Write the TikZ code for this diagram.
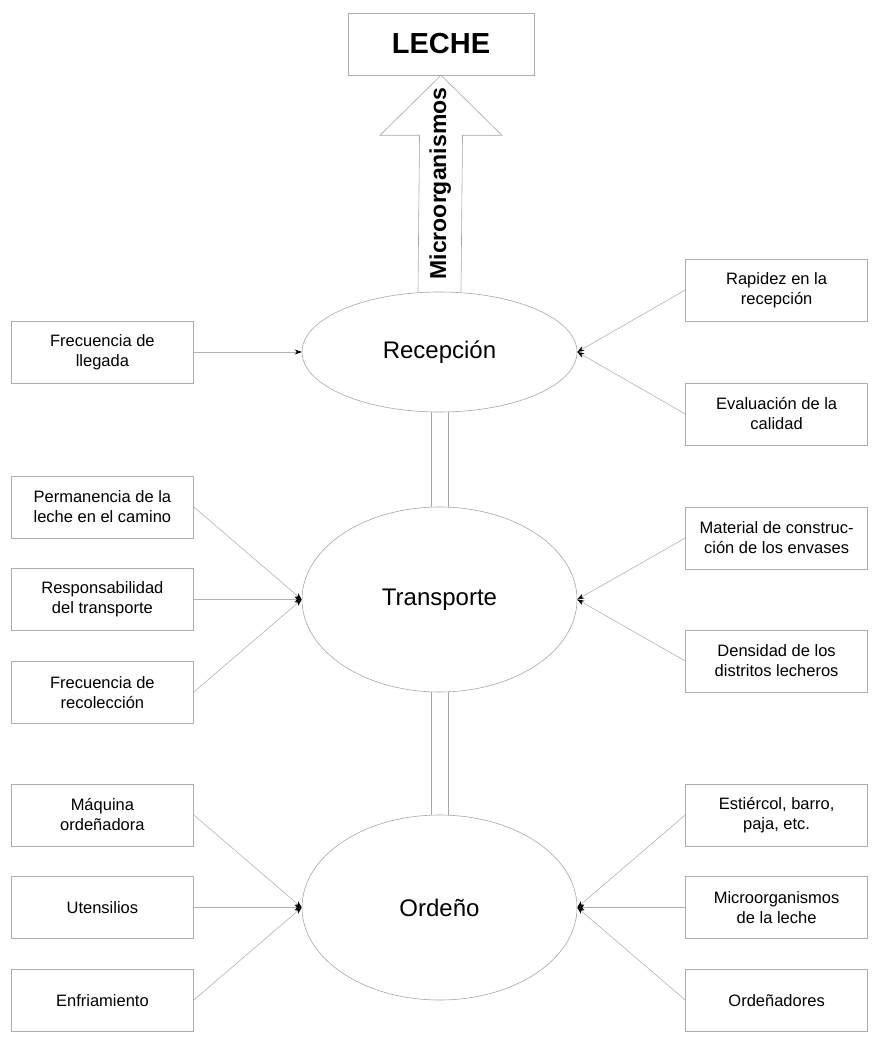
\documentclass[tikz,border=0pt]{standalone}
\usepackage{fontspec}
\setmainfont{Liberation Sans}
\usetikzlibrary{arrows.meta, calc, positioning, shapes.geometric}

\begin{document}
\begin{tikzpicture}[
    x=1pt, y=-1pt,
    node distance=30pt,
    box/.style={rectangle, draw=gray!65, line width=0.6pt, minimum width=182pt, minimum height=62pt, align=center, font=\fontsize{16.5}{20}\selectfont},
    stage/.style={ellipse, draw=gray!70, line width=0.6pt, minimum width=275pt, font=\fontsize{24}{28}\selectfont},
    link/.style={-{Stealth[length=7pt, width=5pt, color=black]}, draw=gray!60, line width=0.6pt},
    pipe/.style={draw=gray!70, line width=0.6pt},
    bigarrow/.style={draw=gray!70, line width=0.6pt, line join=miter}
]
    \useasboundingbox (0,0) rectangle (871,1040);

    % etapas
    \node[stage, minimum height=120pt] (rec) at (439.5,352) {Recepción};
    \node[stage, minimum height=185pt] (tra) at (439.5,599.5) {Transporte};
    \node[stage, minimum height=185pt] (ord) at (439.5,907.5) {Ordeño};

    % producto
    \node[box, minimum width=186pt, font=\bfseries\fontsize{29}{32}\selectfont] (leche) at (441,44) {LECHE};

    % flecha grande
    \draw[bigarrow] ($(rec.north)+(-21.5,0)$) -- ($(leche.south)+(-21.5,60)$) -- ($(leche.south)+(-61,60)$)
        -- (leche.south) -- ($(leche.south)+(61,60)$) -- ($(leche.south)+(21.5,60)$) -- ($(rec.north)+(21.5,0)$);
    \node[rotate=90, font=\bfseries\fontsize{23}{26}\selectfont] (lblmicro) at ($(rec.north)!0.5!(leche.south)$) {Microorganismos};

    % recepcion
    \node[box, left=108pt of rec] (lleg) {Frecuencia de\\llegada};
    \node[box, right=108pt of rec, yshift=62pt] (rap) {Rapidez en la\\recepción};
    \node[box, right=108pt of rec, yshift=-62pt] (eval) {Evaluación de la\\calidad};

    % transporte
    \node[box, left=108pt of tra] (resp) {Responsabilidad\\del transporte};
    \node[box, above=of resp] (perm) {Permanencia de la\\leche en el camino};
    \node[box, below=of resp] (frec) {Frecuencia de\\recolección};
    \node[box, right=108pt of tra, yshift=61.5pt] (mat) {Material de construc-\\ción de los envases};
    \node[box, right=108pt of tra, yshift=-61.5pt] (dens) {Densidad de los\\distritos lecheros};

    % ordeño
    \node[box, left=108pt of ord] (uten) {Utensilios};
    \node[box, above=of uten] (maq) {Máquina\\ordeñadora};
    \node[box, below=of uten] (enf) {Enfriamiento};
    \node[box, right=108pt of ord] (mic) {Microorganismos\\de la leche};
    \node[box, above=of mic] (est) {Estiércol, barro,\\paja, etc.};
    \node[box, below=of mic] (ordn) {Ordeñadores};

    % conexiones
    \draw[link] (lleg) -- (rec.west);
    \foreach \b in {rap, eval} \draw[link] (\b.west) -- (rec.east);
    \foreach \b in {perm, resp, frec} \draw[link] (\b.east) -- (tra.west);
    \foreach \b in {mat, dens} \draw[link] (\b.west) -- (tra.east);
    \foreach \b in {maq, uten, enf} \draw[link] (\b.east) -- (ord.west);
    \foreach \b in {est, mic, ordn} \draw[link] (\b.west) -- (ord.east);

    % tubos entre etapas
    \foreach \dx in {-8.5, 8.5} {
        \draw[pipe] ($(rec.south)+(\dx,0)$) -- ($(tra.north)+(\dx,0)$);
        \draw[pipe] ($(tra.south)+(\dx,0)$) -- ($(ord.north)+(\dx,0)$);
    }
\end{tikzpicture}
\end{document}
